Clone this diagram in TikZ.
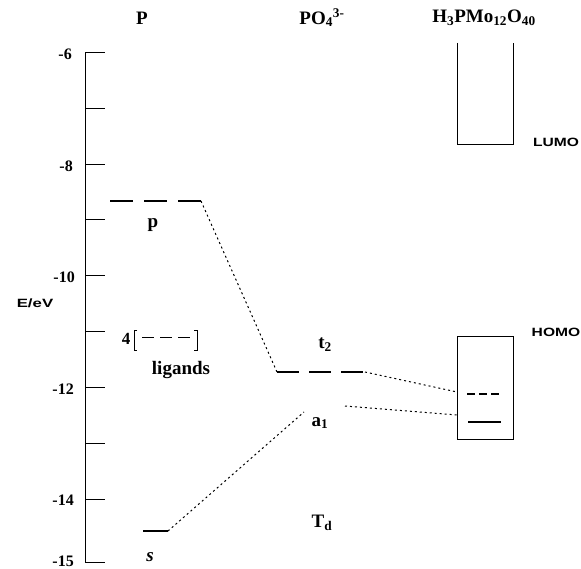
\documentclass[tikz,border=0pt]{standalone}
\usepackage{fontspec}
\setmainfont{Liberation Serif}
\newfontfamily\labsans{Liberation Sans}
\usepackage{graphicx}

\begin{document}
\begin{tikzpicture}[x=1pt, y=-1pt,
  lbl/.style={font=\fontsize{19}{19}\selectfont\bfseries, inner sep=0pt},
  ticklbl/.style={font=\fontsize{16}{16}\selectfont\bfseries, inner sep=0pt, anchor=east},
  sanslbl/.style={font=\fontsize{12}{12}\selectfont\labsans\bfseries, inner sep=0pt},
  level/.style={line width=1.6pt},
  link/.style={line width=1pt, dash pattern=on 2pt off 3pt},
  thinline/.style={line width=1pt}]

\useasboundingbox (0,0) rectangle (581,569);

% energy axis
\draw[thinline] (85,53) -- (85,562);
\foreach \y in {53,109,165,220,276,332,387,443,499,562}
  \draw[thinline] (85,\y) -- +(20,0);
\node[ticklbl] (em6)  at (72,54)  {-6};
\node[ticklbl] (em8)  at (73,166) {-8};
\node[ticklbl] (em10) at (75,277) {-10};
\node[ticklbl] (em12) at (74,389) {-12};
\node[ticklbl] (em14) at (74,500) {-14};
\node[ticklbl] (em15) at (74,561) {-15};
\node[sanslbl] (eunit) at (35,303) {\scalebox{1.4}[1]{E/eV}};

% column headers
\node[lbl] (hP)   at (142,18) {P};
\node[lbl] (hPO)  at (322,18) {PO\textsubscript{4}\textsuperscript{3-}};
\node[lbl] (hPMo) at (484,18) {H\textsubscript{3}PMo\textsubscript{12}O\textsubscript{40}};

% P levels
\coordinate (pL) at (110,201);
\coordinate (pR) at (201,201);
\draw[level, dash pattern=on 23pt off 11pt] (pL) -- (pR);
\node[lbl] (plab) at (153,225) {p};
\coordinate (sL) at (143,531);
\coordinate (sR) at (168,531);
\draw[level] (sL) -- (sR);
\node[lbl] (slab) at (150,557) {\itshape s};

% ligands
\node[lbl, font=\fontsize{17}{17}\selectfont\bfseries] (four) at (126,339) {4};
\draw[thinline] (137,331) -- (134,331) -- (134,350) -- (137,350);
\draw[thinline] (194,331) -- (197,331) -- (197,350) -- (194,350);
\draw[thinline, dash pattern=on 11.5pt off 6.5pt] (142,338) -- (190,338);
\node[lbl] (liglab) at (181,370) {ligands};

% PO4 levels
\coordinate (t2L) at (277,372);
\coordinate (t2R) at (365,372);
\draw[level, dash pattern=on 22pt off 10pt] (t2L) -- (t2R);
\node[lbl] (t2lab) at (325,345) {t\textsubscript{2}};
\coordinate (a1L) at (304,412);
\coordinate (a1R) at (345,406);
\node[lbl] (a1lab) at (320,423) {a\textsubscript{1}};
\node[lbl] (tdlab) at (322,523) {T\textsubscript{d}};

% H3PMo12O40 bands
\draw[thinline] (457,43) -- (457,145) -- (513,145) -- (513,43);
\draw[thinline] (457,337) rectangle (513,439);
\coordinate (hoA) at (457,392);
\coordinate (hoB) at (457,415);
\draw[level, dash pattern=on 8pt off 4pt] (467,394) -- (502,394);
\draw[line width=2pt] (468,422) -- (501,422);
\node[sanslbl] (lumo) at (556,142) {\scalebox{1.3}[1]{LUMO}};
\node[sanslbl] (homo) at (556,332) {\scalebox{1.3}[1]{HOMO}};

% correlation lines
\draw[link] (pR) -- (t2L);
\draw[link] (sR) -- (a1L);
\draw[link] (t2R) -- (hoA);
\draw[link] (a1R) -- (hoB);

\end{tikzpicture}
\end{document}
